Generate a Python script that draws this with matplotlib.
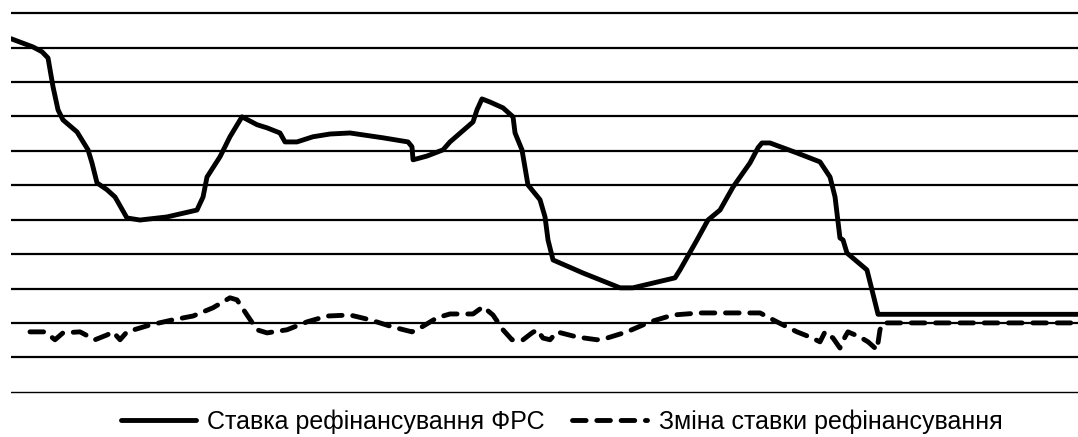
import matplotlib.pyplot as plt

# Period index (0..100) and rate values
t_rate = [0.0, 2.06, 2.91, 3.47, 3.94, 4.41, 4.87, 6.19, 7.22, 7.59, 8.06, 9.0, 9.75,
          10.87, 12.09, 14.62, 17.43, 18.0, 18.37, 19.59, 20.52, 21.65, 23.06, 23.99,
          25.21, 25.68, 26.8, 28.3, 29.9, 31.77, 34.86, 37.21, 37.58, 37.68, 38.99,
          40.49, 41.14, 43.3, 43.67, 44.14, 44.89, 46.11, 47.05, 47.24, 47.89, 48.45,
          49.58, 50.05, 50.33, 50.8, 53.61, 57.08, 58.29, 62.23, 62.7, 64.29, 65.32,
          66.45, 67.67, 69.26, 70.01, 70.38, 71.13, 73.66, 75.82, 76.76, 77.23, 77.69,
          77.98, 78.35, 80.22, 80.69, 81.26, 100.0]
rate = [8.26, 8.02, 7.88, 7.7, 6.86, 6.19, 5.9, 5.55, 5.03, 4.65, 4.07, 3.87, 3.66,
        3.05, 2.99, 3.08, 3.28, 3.66, 4.24, 4.83, 5.41, 5.99, 5.76, 5.67,
        5.52, 5.26, 5.26, 5.41, 5.49, 5.52, 5.38, 5.26, 5.12, 4.74, 4.85,
        5.03, 5.26, 5.84, 6.19, 6.51, 6.42, 6.25, 5.99, 5.52, 5.03, 4.01,
        3.58, 3.08, 2.41, 1.83, 1.45, 1.02, 1.02, 1.31, 1.54, 2.41, 2.99,
        3.28, 3.95, 4.65, 5.09, 5.23, 5.23, 4.94, 4.68, 4.24, 3.66, 2.47,
        2.41, 2.03, 1.54, 0.96, 0.25, 0.25]

t_change = [1.78, 3.19, 4.12, 4.87, 6.47, 7.87, 9.0, 9.56, 10.22, 10.87, 13.03, 15.18,
            17.06, 18.93, 20.52, 21.18, 22.12, 23.06, 23.99, 25.87, 27.74, 29.62, 31.77,
            33.65, 35.8, 37.58, 38.33, 39.93, 41.14, 43.3, 44.24, 45.17, 46.11, 46.95,
            47.99, 48.83, 49.3, 49.86, 50.52, 51.17, 53.05, 54.92, 55.86, 57.73, 59.89,
            62.04, 64.57, 70.2, 71.79, 73.66, 74.88, 75.82, 76.29, 77.04, 77.69, 78.16,
            78.44, 79.57, 80.32, 81.16, 81.44, 81.72, 100.0]
change = [-0.26, -0.26, -0.49, -0.29, -0.26, -0.49, -0.35, -0.26, -0.49, -0.26, -0.06, 0.09,
          0.2, 0.44, 0.73, 0.67, 0.23, -0.2, -0.29, -0.2, 0.03, 0.2, 0.23,
          0.09, -0.12, -0.26, -0.15, 0.15, 0.26, 0.26, 0.47, 0.23, -0.2, -0.49,
          -0.49, -0.29, -0.2, -0.44, -0.49, -0.26, -0.41, -0.49, -0.44, -0.26, 0.03,
          0.23, 0.29, 0.29, 0.03, -0.26, -0.41, -0.55, -0.26, -0.44, -0.73, -0.41,
          -0.26, -0.41, -0.55, -0.78, -0.2, 0.0, 0.0]

grid_levels = list(range(-2, 10))
labels = ['Ставка рефінансування ФРС', 'Зміна ставки рефінансування']

plt.rcParams['font.family'] = ['Liberation Sans', 'DejaVu Sans']

fig = plt.figure(figsize=(10.78, 4.37), dpi=100)
ax = fig.add_axes([0.0102, 0.0847, 0.9898, 0.9039])

ax.plot(t_rate, rate, color='black', lw=3.5, solid_joinstyle='round', solid_capstyle='round',
        label=labels[0])
ax.plot(t_change, change, color='black', lw=3.5, dashes=(2.8, 2.2), dash_capstyle='round',
        dash_joinstyle='round', label=labels[1])

ax.set_xlim(0, 100)
ax.set_ylim(-2.24, 9.24)
ax.set_yticks(grid_levels)
ax.set_xticks([])
ax.yaxis.grid(True, color='black', lw=1.6)
ax.get_ygridlines()[0].set_linewidth(1.0)
ax.set_axisbelow(True)
ax.tick_params(left=False, labelleft=False)
for s in ax.spines.values():
    s.set_visible(False)

fig.legend(loc='center', bbox_to_anchor=(0.521, 0.036), ncol=2, frameon=False,
           fontsize=18, handlelength=3.0, handletextpad=0.45, columnspacing=1.1,
           borderpad=0.0)

fig.savefig('out.png')
